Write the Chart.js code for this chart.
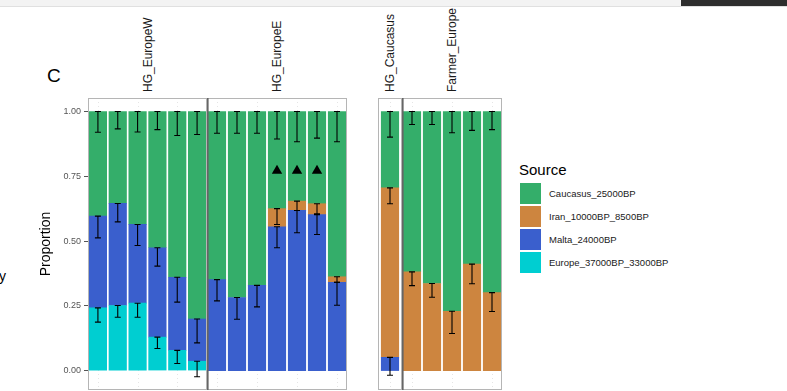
<!DOCTYPE html>
<html>
<head>
<meta charset="utf-8">
<script src="https://cdn.jsdelivr.net/npm/chart.js@4.4.0/dist/chart.umd.min.js"></script>
<style>
  html, body { margin: 0; padding: 0; background: #fff; }
  body { width: 787px; height: 391px; position: relative; overflow: hidden; font-family: "Liberation Sans", Arial, sans-serif; }
  canvas { position: absolute; }
  .topbar { position: absolute; left: 0; top: 0; width: 787px; height: 6px; background: #f3f3f3; border-bottom: 1px solid #e0e0e0; z-index: 5; }
  .topdark { position: absolute; left: 681px; top: 0; width: 106px; height: 6px; background: #2e2e2e; z-index: 6; }
  .strip { position: absolute; font-size: 12px; line-height: 12px; white-space: nowrap; transform: rotate(-90deg); transform-origin: left top; color: #1a1a1a; }
  .tag { position: absolute; left: 47px; top: 66px; font-size: 19px; line-height: 19px; color: #000; }
  .cut { position: absolute; left: -1px; top: 269px; font-size: 14px; line-height: 14px; color: #000; }
  #legend-title { position: absolute; left: 519px; top: 162px; font-size: 15px; line-height: 15px; color: #000; }
  .key { position: absolute; left: 520px; width: 21px; height: 21px; }
  .key-label { position: absolute; left: 549px; height: 21px; line-height: 21px; font-size: 9.5px; color: #1a1a1a; white-space: nowrap; }
</style>
</head>
<body>
<div class="topbar"></div>
<div class="topdark"></div>
<div class="tag">C</div>
<div class="cut">y</div>
<div id="legend-title">Source</div>
<div id="legend"></div>
<div id="strips"></div>
<div id="panels"></div>

<script>
// facets and the samples inside them (x labels are not shown in the figure)
const panels = ["HG_EuropeW", "HG_EuropeE", "HG_Caucasus", "Farmer_Europe"];
const samplePanel = [0, 0, 0, 0, 0, 0, 1, 1, 1, 1, 1, 1, 1, 2, 3, 3, 3, 3, 3];
const samples = [
  "EW1", "EW2", "EW3", "EW4", "EW5", "EW6",
  "EE1", "EE2", "EE3", "EE4", "EE5", "EE6", "EE7",
  "CHG1",
  "FE1", "FE2", "FE3", "FE4", "FE5"
];

// sources in legend order
const sources = ["Caucasus_25000BP", "Iran_10000BP_8500BP", "Malta_24000BP", "Europe_37000BP_33000BP"];

// proportion of each source per sample
const caucasus25 = [0.404, 0.355, 0.436, 0.526, 0.640, 0.801, 0.649, 0.718, 0.671, 0.375, 0.346, 0.356, 0.638, 0.295, 0.619, 0.664, 0.771, 0.589, 0.699];
const iran10 = [0, 0, 0, 0, 0, 0, 0, 0, 0, 0.070, 0.036, 0.042, 0.021, 0.654, 0.381, 0.336, 0.229, 0.411, 0.301];
const malta24 = [0.354, 0.394, 0.304, 0.345, 0.282, 0.163, 0.351, 0.282, 0.329, 0.555, 0.618, 0.602, 0.341, 0.051, 0, 0, 0, 0, 0];
const europe37 = [0.242, 0.251, 0.260, 0.129, 0.078, 0.036, 0, 0, 0, 0, 0, 0, 0, 0, 0, 0, 0, 0, 0];

// lower end of the error bar of each segment (upper end is the segment top)
const caucasusErrLow = [0.920, 0.933, 0.921, 0.930, 0.907, 0.911, 0.916, 0.916, 0.916, 0.894, 0.883, 0.897, 0.883, 0.901, 0.950, 0.950, 0.918, 0.927, 0.930];
const iranErrLow = [null, null, null, null, null, null, null, null, null, 0.564, 0.618, 0.605, 0.341, 0.644, 0.328, 0.283, 0.143, 0.335, 0.228];
const maltaErrLow = [0.512, 0.574, 0.483, 0.403, 0.264, 0.107, 0.269, 0.198, 0.246, 0.474, 0.532, 0.525, 0.252, -0.018, null, null, null, null, null];
const europeErrLow = [0.187, 0.206, 0.206, 0.085, 0.027, -0.024, null, null, null, null, null, null, null, null, null, null, null, null, null];

// samples flagged with a triangle, and the level it sits at
const flagged = [0, 0, 0, 0, 0, 0, 0, 0, 0, 1, 1, 1, 0, 0, 0, 0, 0, 0, 0];
const markerLevel = 0.771;

const yTicks = [0, 0.25, 0.5, 0.75, 1];

// ---- drawing ----
const seriesValues = [caucasus25, iran10, malta24, europe37];
const seriesErrLow = [caucasusErrLow, iranErrLow, maltaErrLow, europeErrLow];
const colors = ["#34AE6A", "#CD853F", "#3A5FCD", "#00CED1"];

Chart.defaults.font.family = "'Liberation Sans', Arial, sans-serif";

const PANEL_TOP = 98;
const PANEL_BOTTOM = 390;
const AXIS_LEFT = 34;
const boxes = [
  { left: 88, right: 207 },
  { left: 207, right: 347, divider: true },
  { left: 378, right: 402 },
  { left: 402, right: 502, divider: true }
];

const panelFrame = {
  id: "panelFrame",
  beforeDatasetsDraw(chart) {
    const { ctx, chartArea: a, scales: { x } } = chart;
    ctx.save();
    ctx.strokeStyle = "#dedede";
    ctx.lineWidth = 0.8;
    ctx.setLineDash([1, 3]);
    x.ticks.forEach((t, i) => {
      const px = Math.round(x.getPixelForTick(i)) + 0.5;
      ctx.beginPath();
      ctx.moveTo(px, a.top);
      ctx.lineTo(px, a.bottom);
      ctx.stroke();
    });
    ctx.restore();
  },
  afterDatasetsDraw(chart) {
    const { ctx } = chart;
    ctx.save();
    ctx.strokeStyle = "#000";
    ctx.lineWidth = 1.1;
    chart.data.datasets.forEach((ds, di) => {
      if (!ds.errLow) return;
      const meta = chart.getDatasetMeta(di);
      const y = chart.scales.y;
      ds.data.forEach((v, i) => {
        const low = ds.errLow[i];
        if (v === null || low === null || low === undefined) return;
        const bar = meta.data[i];
        const x = bar.x;
        const yTop = bar.y;
        const yLow = y.getPixelForValue(low);
        ctx.beginPath();
        ctx.moveTo(x, yTop);
        ctx.lineTo(x, yLow);
        ctx.moveTo(x - 3, yTop);
        ctx.lineTo(x + 3, yTop);
        ctx.moveTo(x - 3, yLow);
        ctx.lineTo(x + 3, yLow);
        ctx.stroke();
      });
    });
    ctx.restore();
  },
  afterDraw(chart, args, opts) {
    const { ctx, chartArea: a } = chart;
    ctx.save();
    ctx.strokeStyle = "#b5b5b5";
    ctx.lineWidth = 1;
    ctx.strokeRect(a.left + 0.5, a.top + 0.5, a.right - a.left - 1, a.bottom - a.top - 1);
    if (opts.divider) {
      ctx.fillStyle = "#666";
      ctx.fillRect(a.left, a.top, 1.6, a.bottom - a.top);
    }
    ctx.restore();
  }
};

const panelHost = document.getElementById("panels");
const stripHost = document.getElementById("strips");

panels.forEach((name, p) => {
  const idx = samplePanel.map((v, i) => (v === p ? i : -1)).filter(i => i >= 0);
  const pick = arr => idx.map(i => arr[i]);
  const box = boxes[p];
  const withAxis = p === 0;
  const left = withAxis ? AXIS_LEFT : box.left;

  const canvas = document.createElement("canvas");
  canvas.width = box.right - left;
  canvas.height = PANEL_BOTTOM - PANEL_TOP;
  canvas.style.left = left + "px";
  canvas.style.top = PANEL_TOP + "px";
  panelHost.appendChild(canvas);

  // strip label
  const strip = document.createElement("div");
  strip.className = "strip";
  strip.textContent = name;
  strip.style.left = ((box.left + box.right) / 2 - 6) + "px";
  strip.style.top = "92px";
  stripHost.appendChild(strip);

  // bottom of the stack first; empty segments are left out
  const barSets = [3, 2, 1, 0].map(s => ({
    label: sources[s],
    data: pick(seriesValues[s]).map(v => (v > 0 ? v : null)),
    errLow: pick(seriesErrLow[s]),
    backgroundColor: colors[s],
    borderWidth: 0,
    barThickness: 17.5
  }));

  new Chart(canvas, {
    type: "bar",
    data: {
      labels: pick(samples),
      datasets: [
        ...barSets,
        {
          type: "line",
          label: "flag",
          data: pick(flagged).map(f => (f ? markerLevel : null)),
          stack: "flag",
          order: -1,
          showLine: false,
          pointStyle: "triangle",
          pointRadius: 6,
          pointBackgroundColor: "#000",
          pointBorderColor: "#000",
          pointBorderWidth: 0
        }
      ]
    },
    options: {
      responsive: false,
      animation: false,
      layout: { padding: 0, autoPadding: false },
      plugins: {
        legend: { display: false },
        tooltip: { enabled: false },
        panelFrame: { divider: !!box.divider }
      },
      scales: {
        x: { stacked: true, display: false },
        y: {
          stacked: true,
          display: withAxis,
          min: -0.075,
          max: 1.052,
          afterBuildTicks: s => { s.ticks = yTicks.map(v => ({ value: v })); },
          afterFit: s => {
            if (withAxis) s.width = box.left - AXIS_LEFT;
            s.paddingTop = 0;
            s.paddingBottom = 0;
          },
          grid: { drawOnChartArea: false, drawTicks: true, tickLength: 4, color: "#555" },
          border: { display: false },
          ticks: { font: { size: 9 }, color: "#555", padding: 3, callback: v => v.toFixed(2) },
          title: { display: true, text: "Proportion", font: { size: 14 }, color: "#000" }
        }
      }
    },
    plugins: [panelFrame]
  });
});

// legend
const legendHost = document.getElementById("legend");
sources.forEach((name, s) => {
  const key = document.createElement("div");
  key.className = "key";
  key.style.top = (183 + s * 23) + "px";
  key.style.background = colors[s];
  legendHost.appendChild(key);
  const label = document.createElement("div");
  label.className = "key-label";
  label.style.top = (183 + s * 23) + "px";
  label.textContent = name;
  legendHost.appendChild(label);
});
</script>
</body>
</html>
